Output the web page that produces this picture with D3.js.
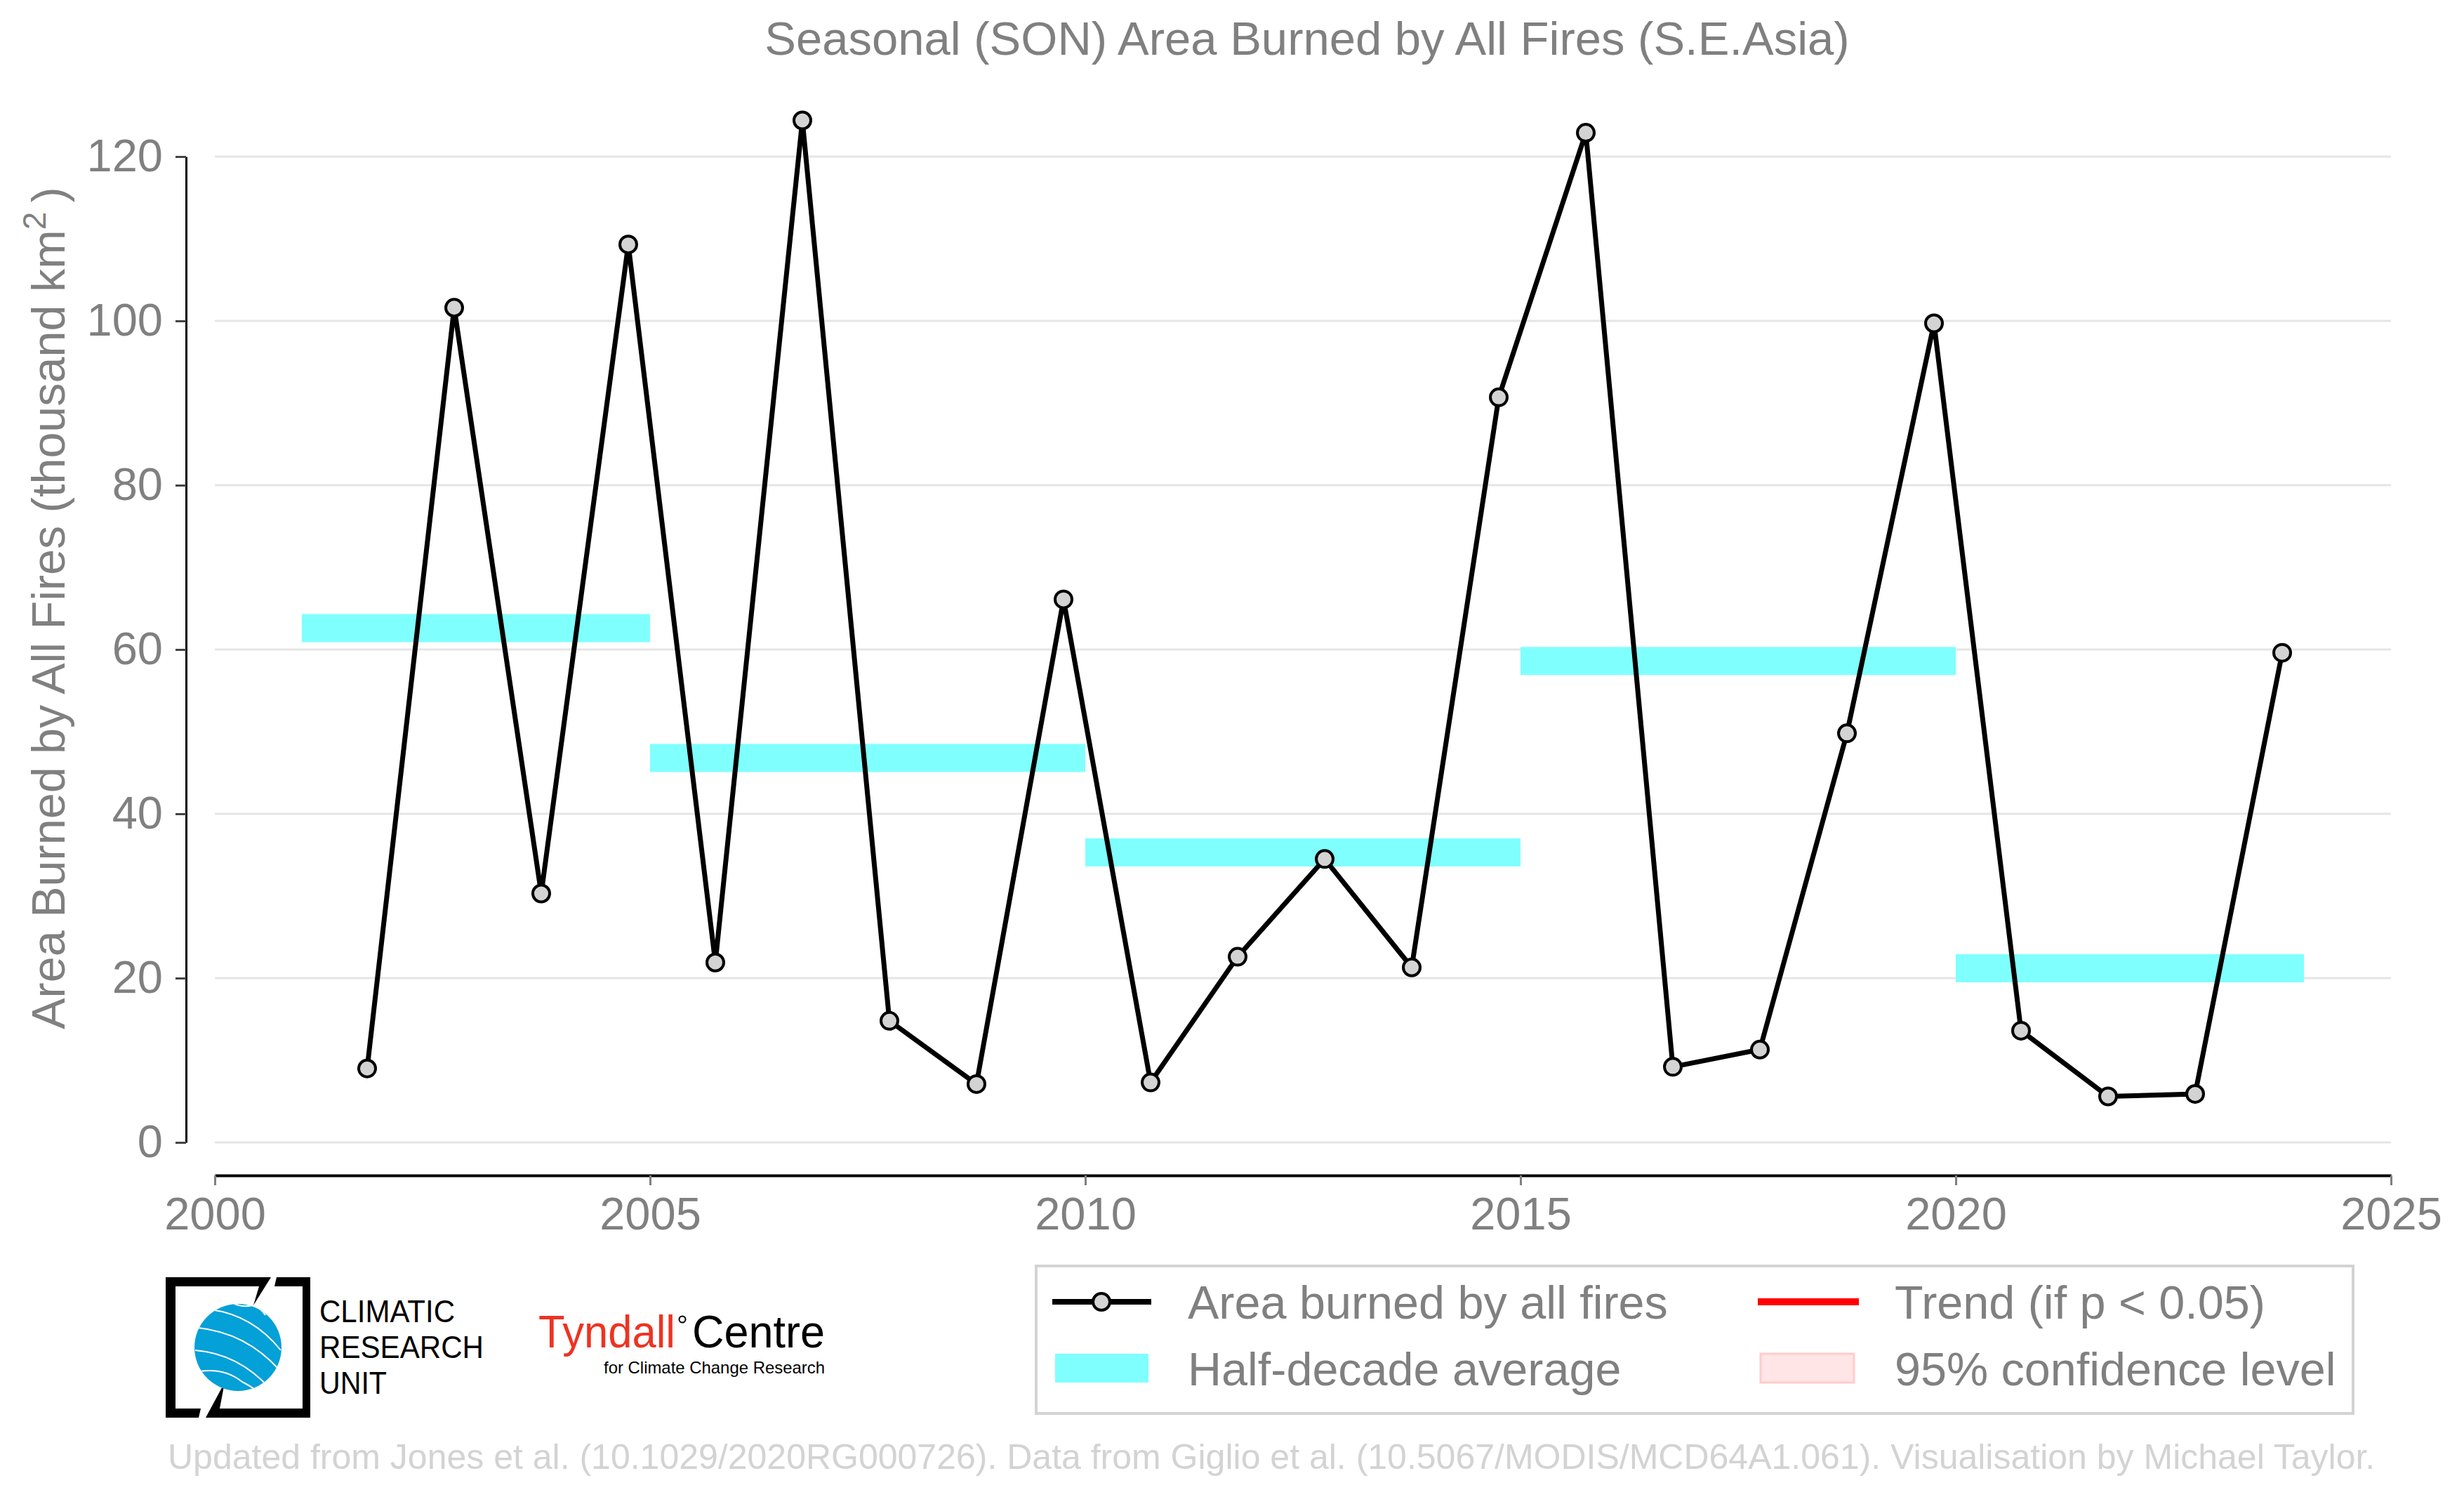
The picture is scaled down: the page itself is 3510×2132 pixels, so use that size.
<!DOCTYPE html>
<html>
<head>
<meta charset="utf-8">
<script src="https://cdn.jsdelivr.net/npm/d3@7"></script>
<style>
  body { margin: 0; background: #fff; }
  svg { display: block; font-family: "Liberation Sans", Arial, sans-serif; }
</style>
</head>
<body>
<div id="chart"></div>
<script>
// SON area burned, S.E.Asia (thousand km2)
const years = [2001, 2002, 2003, 2004, 2005, 2006, 2007, 2008, 2009, 2010, 2011, 2012,
               2013, 2014, 2015, 2016, 2017, 2018, 2019, 2020, 2021, 2022, 2023];
const areaBurned = [9.0, 101.6, 30.3, 109.3, 21.9, 124.4, 14.8, 7.1, 66.1, 7.3, 22.6, 34.5,
                    21.3, 90.7, 122.9, 9.2, 11.3, 49.8, 99.7, 13.6, 5.6, 5.9, 59.6];

// half-decade averages
const periodStart = [2001, 2005, 2010, 2015, 2020];
const periodEnd   = [2005, 2010, 2015, 2020, 2024];
const periodMean  = [62.6, 46.8, 35.3, 58.6, 21.2];

const xTicks = [2000, 2005, 2010, 2015, 2020, 2025];
const yTicks = [0, 20, 40, 60, 80, 100, 120];

const legendItems = ['Area burned by all fires', 'Half-decade average',
                     'Trend (if p < 0.05)', '95% confidence level'];

const W = 3510, H = 2132;
const grey = '#808080';

const svg = d3.select('#chart').append('svg')
  .attr('width', W).attr('height', H)
  .attr('viewBox', `0 0 ${W} ${H}`);

const x = d3.scaleLinear().domain([2000, 2025]).range([306, 3406]);
const y = d3.scaleLinear().domain([0, 120]).range([1627, 223]);

// title
svg.append('text')
  .attr('x', 1862).attr('y', 78)
  .attr('text-anchor', 'middle')
  .attr('font-size', 67).attr('fill', grey)
  .text('Seasonal (SON) Area Burned by All Fires (S.E.Asia)');

// grid
svg.append('g').selectAll('line')
  .data(yTicks).enter().append('line')
  .attr('x1', x(2000)).attr('x2', x(2025))
  .attr('y1', d => y(d)).attr('y2', d => y(d))
  .attr('stroke', '#e5e5e5').attr('stroke-width', 3);

// y axis (offset to the left)
const yAxis = svg.append('g')
  .attr('transform', 'translate(265,0)')
  .call(d3.axisLeft(y).tickValues(yTicks).tickSize(15).tickSizeOuter(0).tickPadding(18));
yAxis.select('.domain').attr('stroke', '#000').attr('stroke-width', 3);
yAxis.selectAll('.tick line').attr('stroke', '#444').attr('stroke-width', 3);
yAxis.selectAll('.tick text')
  .attr('font-size', 65).attr('fill', grey)
  .attr('font-family', '"Liberation Sans", Arial, sans-serif');

// x axis
const xAxis = svg.append('g')
  .attr('transform', 'translate(0,1674)')
  .call(d3.axisBottom(x).tickValues(xTicks).tickFormat(d3.format('d'))
        .tickSize(14).tickSizeOuter(0).tickPadding(17));
xAxis.select('.domain').attr('stroke', '#000').attr('stroke-width', 4);
xAxis.selectAll('.tick line').attr('stroke', grey).attr('stroke-width', 3);
xAxis.selectAll('.tick text')
  .attr('font-size', 65).attr('fill', grey)
  .attr('font-family', '"Liberation Sans", Arial, sans-serif');

// y label
svg.append('text')
  .attr('transform', 'translate(92,866) rotate(-90)')
  .attr('text-anchor', 'middle')
  .attr('font-size', 66.5).attr('fill', grey)
  .call(t => {
    t.append('tspan').text('Area Burned by All Fires (thousand km');
    t.append('tspan').attr('font-size', 46).attr('dy', -27).text('2');
    t.append('tspan').attr('dy', 27).text('\u2009)');
  });

// half-decade bars
svg.append('g').selectAll('rect')
  .data(periodMean).enter().append('rect')
  .attr('x', (d, i) => x(periodStart[i]))
  .attr('width', (d, i) => x(periodEnd[i]) - x(periodStart[i]))
  .attr('y', d => y(d) - 20).attr('height', 40)
  .attr('fill', '#80ffff');

// series
const pts = years.map((yr, i) => [yr + 0.75, areaBurned[i]]);
svg.append('path')
  .datum(pts)
  .attr('d', d3.line().x(d => x(d[0])).y(d => y(d[1])))
  .attr('fill', 'none').attr('stroke', '#000').attr('stroke-width', 7)
  .attr('stroke-linejoin', 'miter');
svg.append('g').selectAll('circle')
  .data(pts).enter().append('circle')
  .attr('cx', d => x(d[0])).attr('cy', d => y(d[1]))
  .attr('r', 12)
  .attr('fill', '#d3d3d3').attr('stroke', '#000').attr('stroke-width', 4);

// legend
const leg = svg.append('g');
leg.append('rect')
  .attr('x', 1476).attr('y', 1803).attr('width', 1876).attr('height', 210)
  .attr('fill', '#fff').attr('stroke', '#d3d3d3').attr('stroke-width', 4);
leg.append('line')
  .attr('x1', 1499).attr('x2', 1640).attr('y1', 1854).attr('y2', 1854)
  .attr('stroke', '#000').attr('stroke-width', 8);
leg.append('circle')
  .attr('cx', 1569).attr('cy', 1854).attr('r', 12)
  .attr('fill', '#d3d3d3').attr('stroke', '#000').attr('stroke-width', 4);
leg.append('rect')
  .attr('x', 1503).attr('y', 1928).attr('width', 133).attr('height', 41)
  .attr('fill', '#80ffff');
leg.append('line')
  .attr('x1', 2504).attr('x2', 2648).attr('y1', 1854).attr('y2', 1854)
  .attr('stroke', '#ff0000').attr('stroke-width', 10);
leg.append('rect')
  .attr('x', 2508).attr('y', 1928).attr('width', 133).attr('height', 41)
  .attr('fill', '#ffe5e5').attr('stroke', '#ffcccc').attr('stroke-width', 3);
leg.selectAll('text.lab')
  .data(legendItems).enter().append('text')
  .attr('class', 'lab')
  .attr('x', (d, i) => i < 2 ? 1692 : 2699)
  .attr('y', (d, i) => i % 2 === 0 ? 1878 : 1973)
  .attr('font-size', 66.5).attr('fill', grey)
  .text(d => d);

// CRU logo
const cru = svg.append('g').attr('transform', 'translate(0,-7)');
cru.append('path')
  .attr('d', 'M236,1826 L386,1826 L361,1866 L369,1839 L250,1839 L250,2013 L286,2013 L283,2026 L236,2026 Z')
  .attr('fill', '#000');
cru.append('path')
  .attr('d', 'M394,1826 L442,1826 L442,2026 L293,2026 L320,1976 L313,2013 L431,2013 L431,1839 L391,1839 Z')
  .attr('fill', '#000');
cru.append('clipPath').attr('id', 'globe')
  .append('ellipse').attr('cx', 339).attr('cy', 1926).attr('rx', 62).attr('ry', 62);
cru.append('ellipse').attr('cx', 339).attr('cy', 1926).attr('rx', 62).attr('ry', 62)
  .attr('fill', '#04a0d8');
const gl = cru.append('g').attr('clip-path', 'url(#globe)')
  .attr('fill', 'none').attr('stroke', '#fff').attr('stroke-width', 2);
['M300,1872 Q360,1880 400,1930', 'M282,1898 Q350,1905 398,1958',
 'M278,1930 Q340,1935 385,1985', 'M285,1960 Q320,1955 345,1975 Q365,1985 372,1995',
 'M300,1985 Q330,1985 355,2000', 'M330,1862 Q345,1870 360,1866 Q372,1870 378,1880']
  .forEach(d => gl.append('path').attr('d', d));
const cruText = [['CLIMATIC', 1890, 193], ['RESEARCH', 1941, 234], ['UNIT', 1992, 96]];
cru.selectAll('text').data(cruText).enter().append('text')
  .attr('x', 455).attr('y', d => d[1])
  .attr('font-size', 44).attr('fill', '#000')
  .attr('textLength', d => d[2]).attr('lengthAdjust', 'spacingAndGlyphs')
  .text(d => d[0]);

// Tyndall logo
const tyn = svg.append('g').attr('transform', 'translate(0,-6)');
tyn.append('text').attr('x', 767).attr('y', 1925)
  .attr('font-size', 64).attr('fill', '#ee3322')
  .attr('textLength', 195).attr('lengthAdjust', 'spacingAndGlyphs')
  .text('Tyndall');
tyn.append('circle').attr('cx', 972).attr('cy', 1885).attr('r', 4.5)
  .attr('fill', 'none').attr('stroke', '#000').attr('stroke-width', 2);
tyn.append('text').attr('x', 986).attr('y', 1925)
  .attr('font-size', 64).attr('fill', '#000')
  .attr('textLength', 189).attr('lengthAdjust', 'spacingAndGlyphs')
  .text('Centre');
tyn.append('text').attr('x', 860).attr('y', 1962)
  .attr('font-size', 24).attr('fill', '#000')
  .attr('textLength', 315).attr('lengthAdjust', 'spacingAndGlyphs')
  .text('for Climate Change Research');

// footer
svg.append('text')
  .attr('x', 239).attr('y', 2092)
  .attr('font-size', 50).attr('fill', '#d3d3d3')
  .text('Updated from Jones et al. (10.1029/2020RG000726). Data from Giglio et al. (10.5067/MODIS/MCD64A1.061). Visualisation by Michael Taylor.');
</script>
</body>
</html>
